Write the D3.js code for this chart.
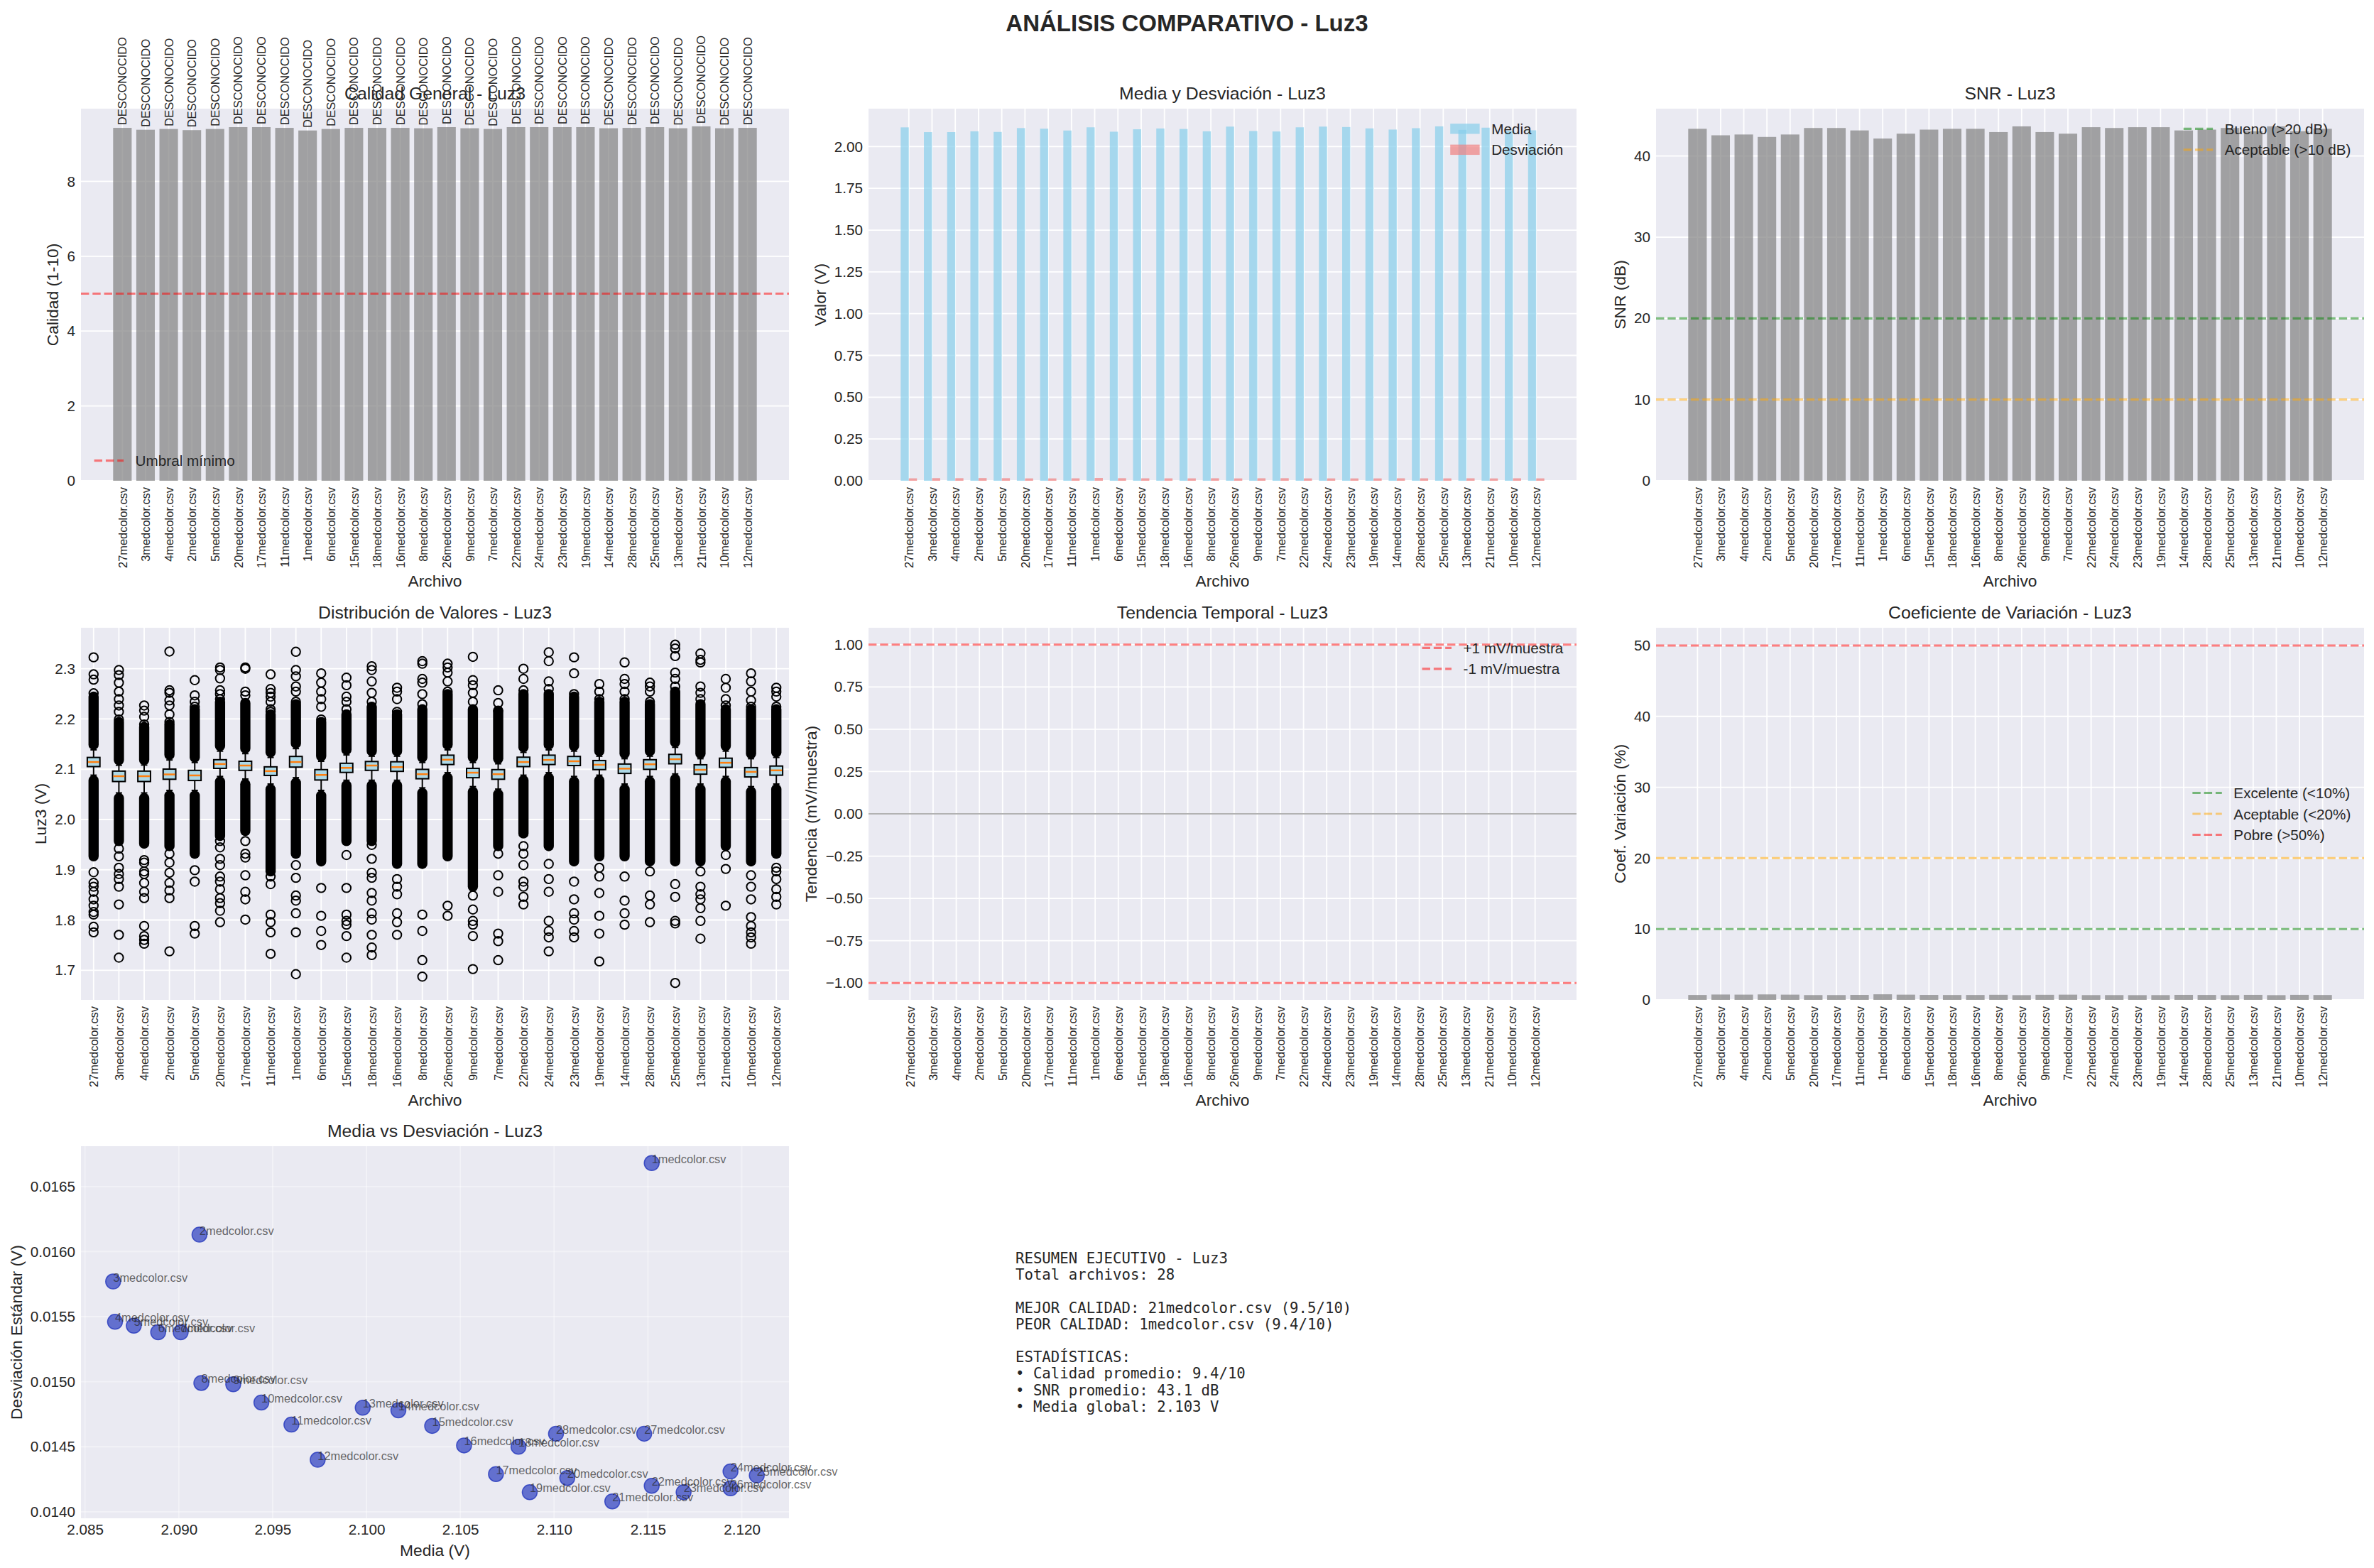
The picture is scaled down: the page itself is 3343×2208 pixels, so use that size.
<!DOCTYPE html>
<html><head><meta charset="utf-8">
<script src="https://cdn.jsdelivr.net/npm/d3@7"></script>
<style>body{margin:0;background:#fff}svg{display:block}</style>
</head><body>
<script>
// ---------------- DATA ----------------
const files = ["27medcolor.csv","3medcolor.csv","4medcolor.csv","2medcolor.csv","5medcolor.csv","20medcolor.csv","17medcolor.csv","11medcolor.csv","1medcolor.csv","6medcolor.csv","15medcolor.csv","18medcolor.csv","16medcolor.csv","8medcolor.csv","26medcolor.csv","9medcolor.csv","7medcolor.csv","22medcolor.csv","24medcolor.csv","23medcolor.csv","19medcolor.csv","14medcolor.csv","28medcolor.csv","25medcolor.csv","13medcolor.csv","21medcolor.csv","10medcolor.csv","12medcolor.csv"];
const statusLabels = ["DESCONOCIDO","DESCONOCIDO","DESCONOCIDO","DESCONOCIDO","DESCONOCIDO","DESCONOCIDO","DESCONOCIDO","DESCONOCIDO","DESCONOCIDO","DESCONOCIDO","DESCONOCIDO","DESCONOCIDO","DESCONOCIDO","DESCONOCIDO","DESCONOCIDO","DESCONOCIDO","DESCONOCIDO","DESCONOCIDO","DESCONOCIDO","DESCONOCIDO","DESCONOCIDO","DESCONOCIDO","DESCONOCIDO","DESCONOCIDO","DESCONOCIDO","DESCONOCIDO","DESCONOCIDO","DESCONOCIDO"];
const quality = [9.43,9.38,9.40,9.37,9.40,9.45,9.45,9.43,9.36,9.40,9.43,9.43,9.43,9.42,9.45,9.42,9.40,9.45,9.45,9.45,9.45,9.42,9.43,9.45,9.42,9.47,9.42,9.43];
const means = [2.1148,2.0865,2.0866,2.0911,2.0876,2.1107,2.1069,2.0960,2.1152,2.0889,2.1035,2.1081,2.1052,2.0912,2.1194,2.0929,2.0901,2.1152,2.1194,2.1169,2.1087,2.1017,2.1101,2.1208,2.0998,2.1131,2.0944,2.0974];
const stds = [0.01460,0.01577,0.01546,0.01613,0.01543,0.01426,0.01429,0.01467,0.01668,0.01538,0.01466,0.01450,0.01451,0.01499,0.01418,0.01498,0.01538,0.01420,0.01431,0.01415,0.01415,0.01478,0.01460,0.01428,0.01480,0.01408,0.01484,0.01440];
const snr = [43.35,42.55,42.65,42.35,42.65,43.45,43.45,43.15,42.15,42.75,43.25,43.35,43.35,42.95,43.65,42.95,42.75,43.55,43.45,43.55,43.55,43.15,43.25,43.45,43.05,43.65,43.05,43.35];
const trend = [0,0,0,0,0,0,0,0,0,0,0,0,0,0,0,0,0,0,0,0,0,0,0,0,0,0,0,0];
const cv = [0.690,0.756,0.741,0.771,0.739,0.676,0.678,0.700,0.789,0.736,0.697,0.688,0.689,0.717,0.669,0.716,0.736,0.671,0.675,0.668,0.671,0.703,0.692,0.673,0.705,0.666,0.709,0.687];

const boxQ1  = [2.1053,2.0756,2.0756,2.0801,2.0776,2.1018,2.0978,2.0877,2.1043,2.0786,2.0937,2.0978,2.0958,2.0811,2.1094,2.0832,2.0801,2.1053,2.1094,2.1074,2.0993,2.0917,2.0998,2.1109,2.0902,2.1038,2.0847,2.0882];
const boxMed = [2.1144,2.0862,2.0862,2.0897,2.0877,2.1104,2.1074,2.0963,2.1144,2.0887,2.1028,2.1074,2.1043,2.0902,2.1190,2.0932,2.0902,2.1144,2.1185,2.1159,2.1089,2.1013,2.1099,2.1200,2.0988,2.1129,2.0948,2.0978];
const boxQ3  = [2.1235,2.0963,2.0963,2.1003,2.0978,2.1190,2.1159,2.1048,2.1255,2.0993,2.1119,2.1154,2.1149,2.0998,2.1280,2.1018,2.0993,2.1240,2.1280,2.1255,2.1174,2.1104,2.1190,2.1296,2.1089,2.1220,2.1033,2.1064];
const whiskerHi = [2.1386,2.1080,2.1084,2.1185,2.1134,2.1361,2.1311,2.1235,2.1411,2.1159,2.1285,2.1260,2.1260,2.1134,2.1386,2.1134,2.1109,2.1336,2.1386,2.1361,2.1260,2.1210,2.1260,2.1437,2.1210,2.1361,2.1210,2.1235];
const whiskerLo = [2.0882,2.0529,2.0529,2.0579,2.0579,2.0857,2.0806,2.0706,2.0832,2.0579,2.0781,2.0781,2.0781,2.0630,2.0932,2.0655,2.0605,2.0882,2.0932,2.0857,2.0882,2.0706,2.0857,2.0907,2.0706,2.0857,2.0655,2.0706];
const denseFlierTop = [2.2445,2.1941,2.1840,2.1891,2.2193,2.2344,2.2319,2.2092,2.2294,2.1941,2.2092,2.2244,2.2092,2.2193,2.2496,2.2193,2.2143,2.2496,2.2496,2.2445,2.2344,2.2344,2.2294,2.2546,2.2294,2.2193,2.2193,2.2193];
const denseFlierBottom = [1.9268,1.9571,1.9520,1.9470,1.9319,1.9672,1.9773,1.8966,1.9319,1.9167,1.9571,1.9571,1.9117,1.9117,1.9268,1.8663,1.9470,1.9722,1.9470,1.9167,1.9268,1.9268,1.9167,1.9167,1.9167,1.9470,1.9167,1.9319];
const sparseFliers = [
[2.3227,2.2889,2.2783,2.2511,1.8951,1.8739,1.8663,1.8562,1.8411,1.8285,1.8159,1.8108,1.7866,1.7755],
[2.2975,2.2874,2.2723,2.2546,2.2395,2.2269,2.2143,2.1991,1.9420,1.9268,1.9041,1.8915,1.8814,1.8663,1.8310,1.7705,1.7251],
[2.2269,2.2168,2.2042,2.1891,1.9193,1.9142,1.8966,1.8915,1.8739,1.8562,1.8436,1.7881,1.7680,1.7604,1.7529],
[2.3343,2.2571,2.2521,2.2370,2.2269,2.2092,2.1941,1.9319,1.9142,1.8941,1.8739,1.8588,1.8436,1.7377],
[2.2773,2.2470,2.2344,2.2244,1.8991,1.8764,1.7881,1.7730],
[2.3025,2.2975,2.2808,2.2571,2.2496,2.2395,1.9571,1.9445,1.9218,1.9092,1.8865,1.8764,1.8613,1.8436,1.8335,1.8184,1.7957],
[2.3025,2.3000,2.2546,2.2470,1.9571,1.9319,1.9243,1.8890,1.8562,1.8411,1.8008],
[2.2889,2.2597,2.2521,2.2445,2.2344,2.2193,2.2143,1.8865,1.8714,1.8108,1.7957,1.7755,1.7327],
[2.3338,2.2975,2.2849,2.2647,2.2546,2.2344,1.9092,1.8840,1.8487,1.8386,1.8134,1.7755,1.6923],
[2.2909,2.2723,2.2546,2.2395,2.2244,2.1991,1.8638,1.8083,1.7781,1.7503],
[2.2823,2.2672,2.2445,2.2344,2.2193,1.9293,1.8638,1.8108,1.7982,1.7907,1.7680,1.7251],
[2.3050,2.2975,2.2748,2.2521,2.2344,1.9495,1.9218,1.8941,1.8840,1.8537,1.8386,1.8134,1.8008,1.7705,1.7453,1.7302],
[2.2622,2.2546,2.2395,2.2143,1.8814,1.8663,1.8512,1.8134,1.7957,1.7705],
[2.3151,2.3101,2.2798,2.2723,2.2496,2.2294,1.8108,1.7781,1.7201,1.6873],
[2.3101,2.3025,2.2924,2.2748,2.2546,1.8285,1.8083],
[2.3237,2.2773,2.2672,2.2521,2.2344,1.8487,1.8209,1.7982,1.7907,1.7680,1.7024],
[2.2571,2.2319,2.2168,1.9319,1.8890,1.8562,1.7730,1.7579,1.7201],
[2.3000,2.2798,2.2571,1.9470,1.9319,1.9092,1.8764,1.8663,1.8461,1.8310],
[2.3328,2.3151,2.2748,2.2597,1.9117,1.8814,1.8562,1.7982,1.7781,1.7655,1.7377],
[2.3227,2.2909,2.2496,1.8764,1.8411,1.8134,1.8008,1.7781,1.7655],
[2.2697,2.2546,2.2395,1.9041,1.8865,1.8537,1.8083,1.7730,1.7176],
[2.3126,2.2798,2.2697,2.2546,2.2395,1.8865,1.8386,1.8134,1.7907],
[2.2723,2.2647,2.2546,2.2344,1.8966,1.8487,1.8310,1.7957],
[2.3479,2.3403,2.3252,2.2924,2.2798,2.2647,1.8714,1.8461,1.7982,1.7932,1.6747],
[2.3303,2.3177,2.3126,2.2647,2.2521,2.2395,1.8966,1.8663,1.8512,1.8411,1.8235,1.7982,1.7629],
[2.2798,2.2622,2.2395,2.2269,1.9293,1.9016,1.8285],
[2.2909,2.2748,2.2546,2.2370,2.2244,1.8890,1.8663,1.8411,1.8058,1.7881,1.7755,1.7655,1.7529],
[2.2622,2.2546,2.2445,2.2244,1.9041,1.8966,1.8814,1.8613,1.8461,1.8310]
];

const ticksQuality = [0,2,4,6,8];
const ticksMean = [0,0.25,0.5,0.75,1.0,1.25,1.5,1.75,2.0];
const ticksSNR = [0,10,20,30,40];
const ticksBox = [1.7,1.8,1.9,2.0,2.1,2.2,2.3];
const ticksTrend = [-1,-0.75,-0.5,-0.25,0,0.25,0.5,0.75,1];
const ticksCV = [0,10,20,30,40,50];
const ticksScatterX = [2.085,2.090,2.095,2.100,2.105,2.110,2.115,2.120];
const ticksScatterY = [0.0140,0.0145,0.0150,0.0155,0.0160,0.0165];

const summaryLines = ["RESUMEN EJECUTIVO - Luz3","Total archivos: 28","","MEJOR CALIDAD: 21medcolor.csv (9.5/10)","PEOR CALIDAD: 1medcolor.csv (9.4/10)","","ESTADÍSTICAS:","• Calidad promedio: 9.4/10","• SNR promedio: 43.1 dB","• Media global: 2.103 V"];

// ---------------- LAYOUT / STYLE ----------------
const W = 3343, H = 2208;
const FONT = "'Liberation Sans', Arial, 'DejaVu Sans', sans-serif";
const MONO = "'DejaVu Sans Mono', monospace";
const TXT = "#262626";
const FS = {tick:20.7, small:16.4, label:22.8, title:24.8, sup:33, legend:20.7};
const cols = [114, 1223, 2332], PW = 997;
const rows = [153, 884, 1614], PH = 524;
const DASH = "11.4 4.9", LW = 3.1, ALPHA_LINE = 0.5;

const svg = d3.select("body").append("svg").attr("width", W).attr("height", H);
svg.append("rect").attr("width", W).attr("height", H).attr("fill", "#fff");

svg.append("text").attr("x", W/2).attr("y", 44).attr("text-anchor","middle")
  .attr("font-family", FONT).attr("font-size", FS.sup).attr("font-weight","bold").attr("fill", TXT)
  .text("ANÁLISIS COMPARATIVO - Luz3");

function panel(o) {
  const g = svg.append("g").attr("transform", `translate(${cols[o.col]},${rows[o.row]})`);
  g.append("rect").attr("width", PW).attr("height", PH).attr("fill", "#EAEAF2");
  const x = d3.scaleLinear().domain(o.xDomain).range([0, PW]);
  const y = d3.scaleLinear().domain(o.yDomain).range([PH, 0]);
  const grid = g.append("g").attr("stroke", "#fff").attr("stroke-width", 1.8).attr("stroke-opacity", o.gridOpacity ?? 1);
  o.yTicks.forEach(t => grid.append("line").attr("x1",0).attr("x2",PW).attr("y1",y(t)).attr("y2",y(t)));
  o.xTicks.forEach(t => grid.append("line").attr("y1",0).attr("y2",PH).attr("x1",x(t)).attr("x2",x(t)));
  const marks = g.append("g");

  // y axis
  const ya = g.append("g").call(d3.axisLeft(y).tickValues(o.yTicks).tickFormat(o.yFmt).tickSize(0).tickPadding(8));
  ya.select(".domain").remove();
  ya.attr("font-family", FONT).attr("font-size", FS.tick);
  ya.selectAll("text").attr("fill", TXT);
  // x axis
  const xa = g.append("g").attr("transform", `translate(0,${PH})`)
    .call(d3.axisBottom(x).tickValues(o.xTicks).tickFormat(o.xFmt).tickSize(0).tickPadding(8));
  xa.select(".domain").remove();
  xa.attr("font-family", FONT).attr("font-size", o.rotate ? FS.small : FS.tick);
  xa.selectAll("text").attr("fill", TXT);
  if (o.rotate) {
    xa.selectAll("text").attr("transform","rotate(-90)").attr("text-anchor","end")
      .attr("x", -9).attr("y", 0).attr("dy","0.35em");
  }
  // labels
  const yb = ya.node().getBBox();
  g.append("text").attr("transform", `translate(${yb.x - 8.2 - 12},${PH/2}) rotate(-90)`)
    .attr("text-anchor","middle").attr("dominant-baseline","central")
    .attr("font-family", FONT).attr("font-size", FS.label).attr("fill", TXT).text(o.ylabel);
  const xb = xa.node().getBBox();
  g.append("text").attr("x", PW/2).attr("y", PH + xb.y + xb.height + 8 + 18)
    .attr("text-anchor","middle").attr("font-family", FONT).attr("font-size", FS.label).attr("fill", TXT).text(o.xlabel);
  g.append("text").attr("x", PW/2).attr("y", -13).attr("text-anchor","middle")
    .attr("font-family", FONT).attr("font-size", FS.title).attr("fill", TXT).text(o.title);
  return {g, marks, x, y};
}

function hline(p, v, color, opacity, solid) {
  const l = p.marks.append("line").attr("x1",0).attr("x2",PW).attr("y1",p.y(v)).attr("y2",p.y(v))
    .attr("stroke", color).attr("stroke-opacity", opacity).attr("stroke-width", solid ? 2 : LW);
  if (!solid) l.attr("stroke-dasharray", DASH);
}

function legend(p, items, pos) {
  const fs = FS.legend, pad = 10.35 + 8.28, hl = 41.4, htp = 16.56, pitch = 29.5;
  const lg = p.g.append("g");
  const widths = items.map(it => {
    const t = lg.append("text").attr("font-family", FONT).attr("font-size", fs).text(it.label);
    const w = t.node().getComputedTextLength(); t.remove(); return w;
  });
  const boxW = hl + htp + d3.max(widths);
  const n = items.length;
  let x0, yc0;
  if (pos === "ur") { x0 = PW - pad - boxW; yc0 = pad + 9.7; }
  else if (pos === "ll") { x0 = pad; yc0 = PH - pad - 9.7 - (n-1)*pitch; }
  else { x0 = PW - pad - boxW; yc0 = PH/2 - (n-1)*pitch/2; }
  items.forEach((it, i) => {
    const yc = yc0 + i*pitch;
    if (it.type === "line") {
      lg.append("line").attr("x1", x0).attr("x2", x0+hl).attr("y1", yc).attr("y2", yc)
        .attr("stroke", it.color).attr("stroke-opacity", ALPHA_LINE).attr("stroke-width", LW).attr("stroke-dasharray", DASH);
    } else {
      lg.append("rect").attr("x", x0).attr("y", yc - 7.2).attr("width", hl).attr("height", 14.4)
        .attr("fill", it.color).attr("fill-opacity", 0.7);
    }
    lg.append("text").attr("x", x0 + hl + htp).attr("y", yc).attr("dominant-baseline","central")
      .attr("font-family", FONT).attr("font-size", fs).attr("fill", TXT).text(it.label);
  });
}

const idx = files.map((d,i) => i);
const fileFmt = (d,i) => files[i];
const barDomain = [-1.79, 28.79];

// ---- Panel 1: Calidad ----
{
  const p = panel({col:0,row:0,title:"Calidad General - Luz3",xDomain:barDomain,yDomain:[0,d3.max(quality)*1.05],
    yTicks:ticksQuality,yFmt:d3.format("d"),xTicks:idx,xFmt:fileFmt,rotate:true,ylabel:"Calidad (1-10)",xlabel:"Archivo"});
  p.marks.selectAll("rect.b").data(quality).join("rect").attr("x",(d,i)=>p.x(i-0.4)).attr("width",p.x(0.4)-p.x(-0.4))
    .attr("y",d=>p.y(d)).attr("height",d=>p.y(0)-p.y(d)).attr("fill","#808080").attr("fill-opacity",0.7);
  hline(p, 5, "red", ALPHA_LINE);
  p.g.selectAll("text.st").data(statusLabels).join("text")
    .attr("transform",(d,i)=>`translate(${p.x(i)},${p.y(quality[i]) - 4}) rotate(-90)`)
    .attr("dominant-baseline","central").attr("font-family",FONT).attr("font-size",FS.small).attr("fill",TXT).text(d=>d);
  legend(p, [{type:"line",color:"red",label:"Umbral mínimo"}], "ll");
}
// ---- Panel 2: Media y Desviación ----
{
  const p = panel({col:1,row:0,title:"Media y Desviación - Luz3",xDomain:[-1.735,28.735],yDomain:[0,d3.max(means)*1.05],
    yTicks:ticksMean,yFmt:d3.format(".2f"),xTicks:idx,xFmt:fileFmt,rotate:true,ylabel:"Valor (V)",xlabel:"Archivo"});
  p.marks.selectAll("rect.m").data(means).join("rect").attr("x",(d,i)=>p.x(i-0.35)).attr("width",p.x(0.35)-p.x(0))
    .attr("y",d=>p.y(d)).attr("height",d=>p.y(0)-p.y(d)).attr("fill","#87CEEB").attr("fill-opacity",0.7);
  p.marks.selectAll("rect.s").data(stds).join("rect").attr("x",(d,i)=>p.x(i)).attr("width",p.x(0.35)-p.x(0))
    .attr("y",d=>p.y(d)).attr("height",d=>p.y(0)-p.y(d)).attr("fill","#F08080").attr("fill-opacity",0.7);
  legend(p, [{type:"patch",color:"#87CEEB",label:"Media"},{type:"patch",color:"#F08080",label:"Desviación"}], "ur");
}
// ---- Panel 3: SNR ----
{
  const p = panel({col:2,row:0,title:"SNR - Luz3",xDomain:barDomain,yDomain:[0,d3.max(snr)*1.05],
    yTicks:ticksSNR,yFmt:d3.format("d"),xTicks:idx,xFmt:fileFmt,rotate:true,ylabel:"SNR (dB)",xlabel:"Archivo"});
  p.marks.selectAll("rect.b").data(snr).join("rect").attr("x",(d,i)=>p.x(i-0.4)).attr("width",p.x(0.4)-p.x(-0.4))
    .attr("y",d=>p.y(d)).attr("height",d=>p.y(0)-p.y(d)).attr("fill","#808080").attr("fill-opacity",0.7);
  hline(p, 20, "green", ALPHA_LINE);
  hline(p, 10, "orange", ALPHA_LINE);
  legend(p, [{type:"line",color:"green",label:"Bueno (>20 dB)"},{type:"line",color:"orange",label:"Aceptable (>10 dB)"}], "ur");
}
// ---- Panel 4: Boxplot ----
{
  const allV = [].concat(...sparseFliers, denseFlierTop, denseFlierBottom);
  const lo = d3.min(allV), hi = d3.max(allV), m = (hi-lo)*0.05;
  const pos = files.map((d,i)=>i+1);
  const p = panel({col:0,row:1,title:"Distribución de Valores - Luz3",xDomain:[0.5,28.5],yDomain:[lo-m,hi+m],
    yTicks:ticksBox,yFmt:d3.format(".1f"),xTicks:pos,xFmt:fileFmt,rotate:true,ylabel:"Luz3 (V)",xlabel:"Archivo"});
  const bw = p.x(1.25)-p.x(1.0); // half of 0.5 width
  const R = 6.2, RO = 7.2;
  files.forEach((f,i) => {
    const cx = p.x(i+1), gm = p.marks;
    gm.append("line").attr("x1",cx).attr("x2",cx).attr("y1",p.y(boxQ3[i])).attr("y2",p.y(whiskerHi[i])).attr("stroke","#000").attr("stroke-width",2);
    gm.append("line").attr("x1",cx).attr("x2",cx).attr("y1",p.y(boxQ1[i])).attr("y2",p.y(whiskerLo[i])).attr("stroke","#000").attr("stroke-width",2);
    [whiskerHi[i], whiskerLo[i]].forEach(v => gm.append("line").attr("x1",cx-bw/2).attr("x2",cx+bw/2).attr("y1",p.y(v)).attr("y2",p.y(v)).attr("stroke","#000").attr("stroke-width",2));
    gm.append("rect").attr("x",cx-RO).attr("width",2*RO).attr("y",p.y(denseFlierTop[i])-RO)
      .attr("height",p.y(whiskerHi[i])-p.y(denseFlierTop[i])+RO).attr("rx",RO).attr("fill","#000");
    gm.append("rect").attr("x",cx-RO).attr("width",2*RO).attr("y",p.y(whiskerLo[i]))
      .attr("height",p.y(denseFlierBottom[i])-p.y(whiskerLo[i])+RO).attr("rx",RO).attr("fill","#000");
    gm.append("rect").attr("x",cx-bw).attr("width",2*bw).attr("y",p.y(boxQ3[i])).attr("height",p.y(boxQ1[i])-p.y(boxQ3[i]))
      .attr("fill","#ADD8E6").attr("stroke","#000").attr("stroke-width",2);
    gm.append("line").attr("x1",cx-bw+1).attr("x2",cx+bw-1).attr("y1",p.y(boxMed[i])).attr("y2",p.y(boxMed[i])).attr("stroke","#ff7f0e").attr("stroke-width",2.5);
    sparseFliers[i].forEach(v => gm.append("circle").attr("cx",cx).attr("cy",p.y(v)).attr("r",R).attr("fill","none").attr("stroke","#000").attr("stroke-width",2));
  });
}
// ---- Panel 5: Tendencia ----
{
  const p = panel({col:1,row:1,title:"Tendencia Temporal - Luz3",xDomain:barDomain,yDomain:[-1.1,1.1],
    yTicks:ticksTrend,yFmt:d=>d3.format(".2f")(d).replace("-","\u2212"),xTicks:idx,xFmt:fileFmt,rotate:true,ylabel:"Tendencia (mV/muestra)",xlabel:"Archivo"});
  p.marks.selectAll("rect.b").data(trend).join("rect").attr("x",(d,i)=>p.x(i-0.4)).attr("width",p.x(0.4)-p.x(-0.4))
    .attr("y",d=>p.y(Math.max(d,0))).attr("height",d=>Math.abs(p.y(0)-p.y(d))).attr("fill","#808080").attr("fill-opacity",0.7);
  hline(p, 1, "red", ALPHA_LINE);
  hline(p, -1, "red", ALPHA_LINE);
  hline(p, 0, "black", 0.3, true);
  legend(p, [{type:"line",color:"red",label:"+1 mV/muestra"},{type:"line",color:"red",label:"-1 mV/muestra"}], "ur");
}
// ---- Panel 6: CV ----
{
  const p = panel({col:2,row:1,title:"Coeficiente de Variación - Luz3",xDomain:barDomain,yDomain:[0,d3.max(cv.concat([50]))*1.05],
    yTicks:ticksCV,yFmt:d3.format("d"),xTicks:idx,xFmt:fileFmt,rotate:true,ylabel:"Coef. Variación (%)",xlabel:"Archivo"});
  p.marks.selectAll("rect.b").data(cv).join("rect").attr("x",(d,i)=>p.x(i-0.4)).attr("width",p.x(0.4)-p.x(-0.4))
    .attr("y",d=>p.y(d)).attr("height",d=>p.y(0)-p.y(d)).attr("fill","#808080").attr("fill-opacity",0.7);
  hline(p, 10, "green", ALPHA_LINE);
  hline(p, 20, "orange", ALPHA_LINE);
  hline(p, 50, "red", ALPHA_LINE);
  legend(p, [{type:"line",color:"green",label:"Excelente (<10%)"},{type:"line",color:"orange",label:"Aceptable (<20%)"},{type:"line",color:"red",label:"Pobre (>50%)"}], "cr");
}
// ---- Panel 7: Scatter ----
{
  const [mx0,mx1] = d3.extent(means), [sy0,sy1] = d3.extent(stds);
  const mxm = (mx1-mx0)*0.05, sym = (sy1-sy0)*0.05;
  const p = panel({col:0,row:2,title:"Media vs Desviación - Luz3",xDomain:[mx0-mxm,mx1+mxm],yDomain:[sy0-sym,sy1+sym],
    yTicks:ticksScatterY,yFmt:d3.format(".4f"),xTicks:ticksScatterX,xFmt:d3.format(".3f"),rotate:false,
    ylabel:"Desviación Estándar (V)",xlabel:"Media (V)",gridOpacity:0.4});
  p.marks.selectAll("circle").data(means).join("circle").attr("cx",d=>p.x(d)).attr("cy",(d,i)=>p.y(stds[i])).attr("r",10.5)
    .attr("fill","rgb(35,54,189)").attr("fill-opacity",0.68).attr("stroke","rgb(35,54,189)").attr("stroke-opacity",0.8).attr("stroke-width",1.5);
  p.marks.selectAll("text.lb").data(files).join("text").attr("x",(d,i)=>p.x(means[i])).attr("y",(d,i)=>p.y(stds[i]))
    .attr("font-family",FONT).attr("font-size",FS.small).attr("fill",TXT).attr("fill-opacity",0.7).text(d=>d);
}
// ---- Summary text ----
{
  const t = svg.append("text").attr("font-family", MONO).attr("font-size", FS.tick).attr("fill", TXT);
  summaryLines.forEach((s,i) => t.append("tspan").attr("x", 1430).attr("y", 1779 + i*23.2).text(s));
}
</script>
</body></html>
